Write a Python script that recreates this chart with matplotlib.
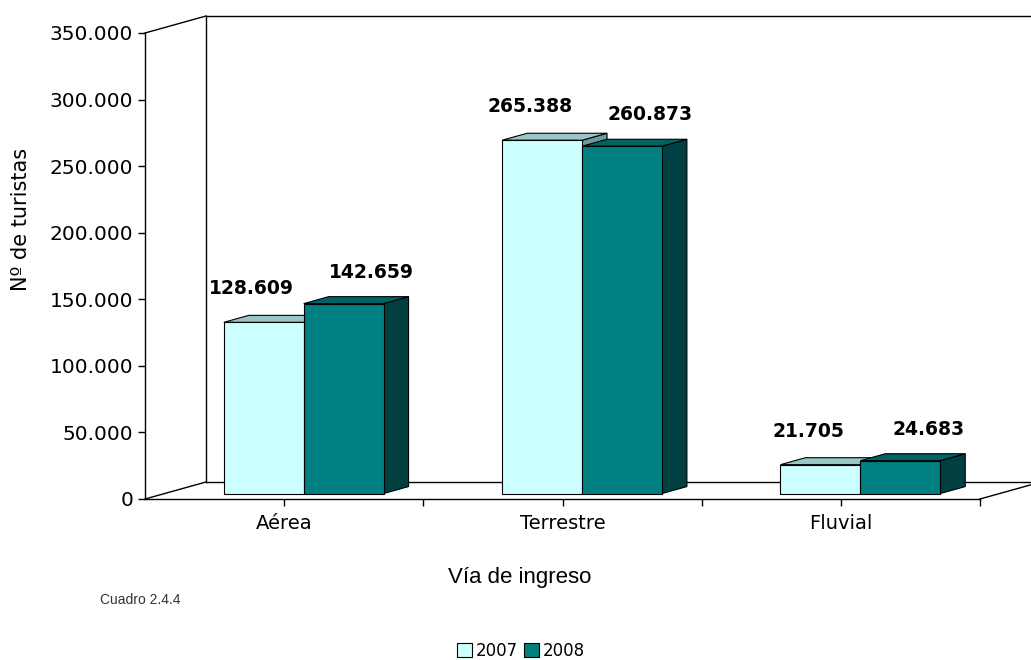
import matplotlib.pyplot as plt
from matplotlib.patches import Polygon, Patch

categorias = ["Aérea", "Terrestre", "Fluvial"]
anios = ["2007", "2008"]
turistas_2007 = [128609, 265388, 21705]
turistas_2008 = [142659, 260873, 24683]
y_ticks = [0, 50000, 100000, 150000, 200000, 250000, 300000, 350000]

# colores: frente, tapa, lado
col_2007 = ("#CCFFFF", "#99C6C6", "#6E9A9A")
col_2008 = ("#008080", "#006262", "#004040")

fig = plt.figure(figsize=(10.31, 6.6), dpi=100)
ax = fig.add_axes([145 / 1031, 161 / 660, 835 / 1031, 466 / 660])
ax.set_xlim(-0.5, 2.5)
ax.set_ylim(0, 350000)

# profundidad de la perspectiva en unidades de datos
dx = 61 / 835 * 3
dy = 17 / 466 * 350000
f0, f1 = 0.32, 0.73
w = 0.287

lk = dict(color="black", lw=1, clip_on=False, zorder=1)
# suelo
ax.plot([-0.5, -0.5 + dx], [0, dy], **lk)
ax.plot([-0.5 + dx, 2.5 + dx], [dy, dy], **lk)
ax.plot([2.5, 2.5 + dx], [0, dy], **lk)
# paredes
ax.plot([-0.5 + dx, -0.5 + dx], [dy, 350000 + dy], **lk)
ax.plot([-0.5, -0.5 + dx], [350000, 350000 + dy], **lk)
ax.plot([-0.5 + dx, 2.5 + dx], [350000 + dy, 350000 + dy], **lk)


def barra(x0, v, cols):
    x1 = x0 + w
    frente = Polygon([(x0 + f0 * dx, f0 * dy), (x1 + f0 * dx, f0 * dy),
                      (x1 + f0 * dx, v + f0 * dy), (x0 + f0 * dx, v + f0 * dy)],
                     fc=cols[0], ec="black", lw=0.8, clip_on=False, zorder=3)
    tapa = Polygon([(x0 + f0 * dx, v + f0 * dy), (x1 + f0 * dx, v + f0 * dy),
                    (x1 + f1 * dx, v + f1 * dy), (x0 + f1 * dx, v + f1 * dy)],
                   fc=cols[1], ec="black", lw=0.8, clip_on=False, zorder=3)
    lado = Polygon([(x1 + f0 * dx, f0 * dy), (x1 + f1 * dx, f1 * dy),
                    (x1 + f1 * dx, v + f1 * dy), (x1 + f0 * dx, v + f0 * dy)],
                   fc=cols[2], ec="black", lw=0.8, clip_on=False, zorder=3)
    for p in (lado, tapa, frente):
        ax.add_patch(p)


for i in range(len(categorias)):
    barra(i - w, turistas_2007[i], col_2007)
    barra(i, turistas_2008[i], col_2008)

fmt = lambda v: f"{v:,.0f}".replace(",", ".")
for i in range(len(categorias)):
    ax.annotate(fmt(turistas_2007[i]), (i - w / 2 + f0 * dx, turistas_2007[i] + f0 * dy),
                xytext=(-12, 24), textcoords="offset pixels", ha="center", va="bottom",
                fontsize=13.5, fontweight="bold", zorder=5)
    ax.annotate(fmt(turistas_2008[i]), (i + w / 2 + f0 * dx, turistas_2008[i] + f0 * dy),
                xytext=(28, 22), textcoords="offset pixels", ha="center", va="bottom",
                fontsize=13.5, fontweight="bold", zorder=5)

for s in ("top", "right"):
    ax.spines[s].set_visible(False)
ax.spines["left"].set_linewidth(1)
ax.spines["bottom"].set_linewidth(1)
ax.patch.set_visible(False)

ax.set_yticks(y_ticks)
ax.set_yticklabels([fmt(v) for v in y_ticks], fontsize=14.5)
ax.set_xticks(range(len(categorias)))
ax.set_xticklabels(categorias, fontsize=14)
ax.set_xticks([0.5, 1.5, 2.5], minor=True)
ax.tick_params(axis="both", which="both", direction="out", length=5, width=1)
ax.tick_params(axis="x", pad=6)

ax.set_ylabel("Nº de turistas", fontsize=15)
ax.yaxis.set_label_coords(-0.137, 0.6)
ax.set_xlabel("Vía de ingreso", fontsize=16, family="Liberation Sans")
ax.xaxis.set_label_coords(0.449, -0.146)

fig.text(100 / 1031, 1 - 600 / 660, "Cuadro 2.4.4", fontsize=10,
         family="Liberation Sans", color="#333333", va="center")

handles = [Patch(fc=col_2007[0], ec="black", lw=0.8),
           Patch(fc=col_2008[0], ec="black", lw=0.8)]
fig.legend(handles, anios, loc="center", bbox_to_anchor=(521 / 1031, 1 - 651 / 660),
           ncol=2, frameon=False, handlelength=0.9, handleheight=0.9,
           handletextpad=0.2, columnspacing=0.4,
           prop={"family": "DejaVu Sans", "size": 12})

fig.savefig("out.png", dpi=100)
